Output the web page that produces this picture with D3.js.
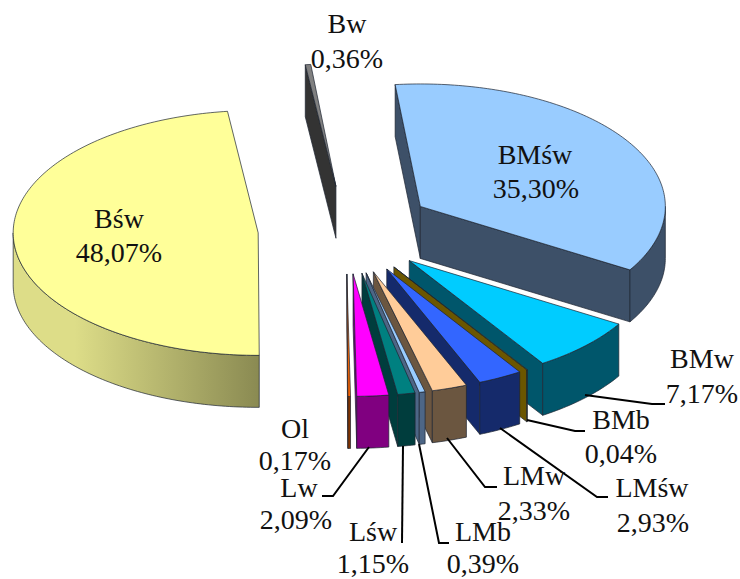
<!DOCTYPE html>
<html><head><meta charset="utf-8">
<script src="https://cdn.jsdelivr.net/npm/d3@7/dist/d3.min.js"></script>
<style>html,body{margin:0;padding:0;background:#fff}svg{display:block}text{font-family:"Liberation Serif",serif;font-size:28px;fill:#111;text-anchor:middle}</style>
</head><body><script>
const categories=["BMśw","BMw","BMb","LMśw","LMw","LMb","Lśw","Lw","Ol","Bśw","Bw"];
const percentValues=[35.30,7.17,0.04,2.93,2.33,0.39,1.15,2.09,0.17,48.07,0.36];
const percentLabels=["35,30%","7,17%","0,04%","2,93%","2,33%","0,39%","1,15%","2,09%","0,17%","48,07%","0,36%"];
const topColors=["#99ccff","#00ccff","#ffcc00","#3366ff","#ffcc99","#99ccff","#008080","#ff00ff","#ff6600","#ffff99","#808080"];
const sideColors=["#3d5068","#00566b","#6b5600","#152a6b","#6b5640","#4d6686","#003d3d","#800080","#803300","#dddd88","#333333"];
const sideDarkColors=["#3d5068","#00566b","#6b5600","#152a6b","#6b5640","#4d6686","#003d3d","#800080","#803300","#8a8a52","#333333"];
// label placement: [name x, name y, value x, value y]
const labelSpots=[[535,164,536,198],[702,368,702,403],[621,429,621,463],[652,497,653,532],[534,485,534,520],[483,541,483,573],[373,541,373,573],[299,497,296,529],[295,438,295,470],[119,228,119,262],[347,33,347,68]];
// leader polylines, null when the label sits on or beside its slice
const leaders=[null,[[585,395],[652,404],[665,404]],[[527,420],[575,431],[585,431]],[[500,428],[597,497],[608,497]],[[447,438],[485,487],[497,487]],[[419,444],[439,543],[449,543]],[[403,446],[402,543]],[[369,447],[333,496],[322,496]],null,null,null];

const W=740,H=579,cx=346,cy=230,rx=245,tilt=0.5,explode=88,depth=52;
const svg=d3.select("body").append("svg").attr("width",W).attr("height",H);
const defs=svg.append("defs");
const toRad=Math.PI/180;
const pie=d3.pie().sort(null).value(d=>d).startAngle(-5.9*toRad).endAngle(354.1*toRad);
const arcs=pie(percentValues);
const line=d3.line();
function apex(a){const m=(a.startAngle+a.endAngle)/2;return [cx+explode*Math.sin(m),cy-explode*Math.cos(m)*tilt];}
function pt(a,th,r,z){const o=apex(a);return [o[0]+r*rx*Math.sin(th),o[1]-r*rx*Math.cos(th)*tilt+z];}
function rim(a,t0,t1,z){const n=Math.max(2,Math.ceil((t1-t0)/(1*toRad)));return d3.range(n+1).map(i=>pt(a,t0+(t1-t0)*i/n,1,z));}

const slices=arcs.map((a,i)=>({a,i})).sort((p,q)=>{
  const y=s=>-Math.cos((s.a.startAngle+s.a.endAngle)/2);return y(p)-y(q);});
const stroke="#1c2430",sw=0.7;
slices.forEach(({a,i})=>{
  const g=svg.append("g").attr("class","slice");
  const gid="wall"+i;
  const t0=a.startAngle,t1=a.endAngle;
  const xs=rim(a,t0,t1,0).map(p=>p[0]);
  const lg=defs.append("linearGradient").attr("id",gid).attr("gradientUnits","userSpaceOnUse")
    .attr("x1",d3.min(xs)).attr("x2",d3.max(xs)).attr("y1",0).attr("y2",0);
  lg.append("stop").attr("offset",0).attr("stop-color",sideColors[i]);
  lg.append("stop").attr("offset",0.25).attr("stop-color",sideColors[i]);
  lg.append("stop").attr("offset",1).attr("stop-color",sideDarkColors[i]);
  const face=(th)=>line([pt(a,th,0,0),pt(a,th,1,0),pt(a,th,1,depth),pt(a,th,0,depth)])+"Z";
  if(Math.sin(t0)<0) g.append("path").attr("d",face(t0)).attr("fill",sideColors[i]).attr("stroke",stroke).attr("stroke-width",sw);
  if(Math.sin(t1)>0) g.append("path").attr("d",face(t1)).attr("fill",sideColors[i]).attr("stroke",stroke).attr("stroke-width",sw);
  const lo=Math.max(t0,90*toRad),hi=Math.min(t1,270*toRad);
  if(hi>lo){
    const up=rim(a,lo,hi,0),dn=rim(a,lo,hi,depth).reverse();
    g.append("path").attr("d",line(up.concat(dn))+"Z").attr("fill",`url(#${gid})`).attr("stroke",stroke).attr("stroke-width",sw);
  }
  g.append("path").attr("d",line([pt(a,t0,0,0)].concat(rim(a,t0,t1,0)))+"Z").attr("fill",topColors[i]).attr("stroke",stroke).attr("stroke-width",sw);
});
leaders.forEach(l=>{if(l)svg.append("path").attr("d",line(l)).attr("fill","none").attr("stroke","#000").attr("stroke-width",2);});
categories.forEach((c,i)=>{
  const s=labelSpots[i];
  svg.append("text").attr("x",s[0]).attr("y",s[1]).text(c);
  svg.append("text").attr("x",s[2]).attr("y",s[3]).text(percentLabels[i]);
});
</script></body></html>
